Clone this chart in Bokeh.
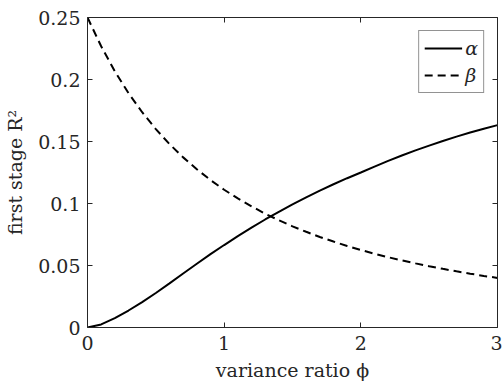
from bokeh.plotting import figure
from bokeh.models import Range1d, LinearAxis, FixedTicker, Legend, LegendItem
from bokeh.embed import file_html
from bokeh.resources import INLINE

# ---- data ----
phi = [0.0, 0.1, 0.2, 0.3, 0.4, 0.5, 0.6, 0.7, 0.8, 0.9,
       1.0, 1.1, 1.2, 1.3, 1.4, 1.5, 1.6, 1.7, 1.8, 1.9,
       2.0, 2.1, 2.2, 2.3, 2.4, 2.5, 2.6, 2.7, 2.8, 2.9, 3.0]
alpha = [0.0, 0.0025, 0.0075, 0.0137, 0.0205, 0.0278, 0.0356, 0.0435, 0.0514, 0.0592,
         0.0665, 0.0737, 0.0805, 0.0871, 0.0933, 0.0993, 0.1050, 0.1104, 0.1155, 0.1204,
         0.1250, 0.1298, 0.1344, 0.1387, 0.1428, 0.1467, 0.1504, 0.1539, 0.1572, 0.1603, 0.1632]
beta = [0.2500, 0.2268, 0.2066, 0.1890, 0.1736, 0.1600, 0.1479, 0.1372, 0.1276, 0.1189,
        0.1111, 0.1041, 0.0977, 0.0918, 0.0865, 0.0816, 0.0772, 0.0730, 0.0693, 0.0657,
        0.0625, 0.0595, 0.0567, 0.0541, 0.0517, 0.0494, 0.0473, 0.0453, 0.0434, 0.0416, 0.0400]
series_names = ["α", "β"]
x_ticks = [0, 1, 2, 3]
x_tick_labels = ["0", "1", "2", "3"]
y_ticks = [0, 0.05, 0.1, 0.15, 0.2, 0.25]
y_tick_labels = ["0", "0.05", "0.1", "0.15", "0.2", "0.25"]
x_label = "variance ratio ϕ"
y_label = "first stage R²"

FONT = "DejaVu Serif"
DARK = "#262626"

p = figure(width=502, height=387, output_backend="svg", toolbar_location=None,
           x_range=Range1d(0, 3), y_range=Range1d(0, 0.25),
           min_border_left=87, min_border_right=5, min_border_top=17, min_border_bottom=60,
           background_fill_color="white", border_fill_color="white")
p.grid.visible = False
p.outline_line_color = None

def style_axis(ax, ticks, labels=None):
    ax.ticker = FixedTicker(ticks=ticks)
    ax.major_tick_in = 5
    ax.major_tick_out = 0
    ax.minor_tick_line_color = None
    ax.axis_line_color = DARK
    ax.major_tick_line_color = DARK
    ax.major_label_text_font = FONT
    ax.major_label_text_color = DARK
    ax.major_label_text_font_size = "19px"
    if labels is not None:
        ax.major_label_overrides = dict(zip(ticks, labels))

xa = p.xaxis[0]
ya = p.yaxis[0]
style_axis(xa, x_ticks, x_tick_labels)
style_axis(ya, y_ticks, y_tick_labels)
xa.major_label_standoff = 8
ya.major_label_standoff = 7
xa.axis_label = x_label
ya.axis_label = y_label
for ax in (xa, ya):
    ax.axis_label_text_font = FONT
    ax.axis_label_text_font_style = "normal"
    ax.axis_label_text_font_size = "19px"
    ax.axis_label_text_color = DARK
xa.axis_label_standoff = 6
ya.axis_label_standoff = 9

# box axes (top / right): ticks only, no labels drawn
top = LinearAxis()
style_axis(top, x_ticks)
top.major_label_text_font_size = "1px"
top.major_label_text_color = None
top.major_label_standoff = 0
p.add_layout(top, "above")
right = LinearAxis()
style_axis(right, y_ticks)
right.major_label_text_font_size = "1px"
right.major_label_text_color = None
right.major_label_standoff = 0
p.add_layout(right, "right")

r_a = p.line(phi, alpha, line_color="black", line_width=2)
r_b = p.line(phi, beta, line_color="black", line_width=2, line_dash="8 5")

legend = Legend(items=[LegendItem(label=series_names[0], renderers=[r_a]),
                       LegendItem(label=series_names[1], renderers=[r_b])],
                location="top_right")
legend.margin = 13
legend.padding = 5
legend.spacing = 3
legend.glyph_width = 38
legend.glyph_height = 24
legend.label_height = 24
legend.label_width = 12
legend.label_standoff = 3
legend.label_text_font = FONT
legend.label_text_font_style = "italic"
legend.label_text_font_size = "19px"
legend.label_text_color = DARK
legend.border_line_color = DARK
legend.border_line_width = 1
legend.background_fill_color = "white"
legend.background_fill_alpha = 1
p.add_layout(legend)

open("out.html", "w").write(file_html(p, INLINE))
